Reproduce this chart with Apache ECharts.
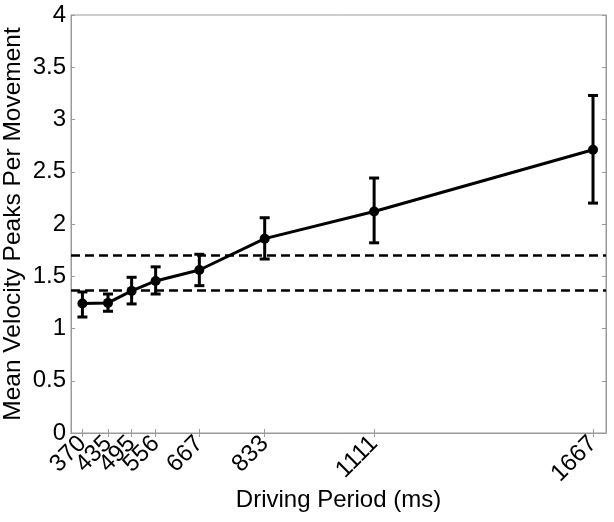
<!DOCTYPE html>
<html>
<head>
<meta charset="utf-8">
<script src="https://cdn.jsdelivr.net/npm/echarts@6/dist/echarts.min.js"></script>
<style>
  html, body { margin: 0; padding: 0; background: #fff; }
  #chart { width: 614px; height: 522px; }
</style>
</head>
<body>
<div id="chart"></div>
<script>
// driving periods (ms) and mean velocity peaks per movement
const periods = [370, 435, 495, 556, 667, 833, 1111, 1667];
const means = [1.24, 1.245, 1.36, 1.455, 1.56, 1.86, 2.12, 2.71];
const upper = [1.35, 1.33, 1.49, 1.59, 1.71, 2.06, 2.44, 3.23];
const lower = [1.11, 1.165, 1.235, 1.33, 1.41, 1.665, 1.82, 2.20];
const refLines = [1.70, 1.37];

const font = "'Liberation Sans', Arial, sans-serif";
const axisGray = "#9a9a9a";
const xMin = 341, xMax = 1700;

const chart = echarts.init(document.getElementById("chart"));

const lineData = periods.map((p, i) => [p, means[i]]);
const errData = periods.map((p, i) => [p, lower[i], upper[i]]);

// labels are tightly packed, so split them over two identical grids
// to stop echarts from dropping the crowded ones
const labelsA = periods.filter((p, i) => i % 2 === 0);
const labelsB = periods.filter((p, i) => i % 2 === 1);

const tickStyle = { show: true, inside: true, length: 4, lineStyle: { color: axisGray } };
const gridRect = { left: 71, right: 8, top: 15, bottom: 89, outerBoundsMode: "none" };
const xLabel = {
  formatter: v => String(v),
  rotate: 45,
  hideOverlap: false,
  fontFamily: font,
  fontSize: 24,
  color: "#000",
  margin: 7,
};

const option = {
  animation: false,
  grid: [
    Object.assign({ show: true, borderColor: axisGray, borderWidth: 1 }, gridRect),
    Object.assign({ show: false }, gridRect),
  ],
  xAxis: [
    {
      type: "value",
      gridIndex: 0,
      min: xMin,
      max: xMax,
      position: "bottom",
      name: "Driving Period (ms)",
      nameLocation: "middle",
      nameGap: 55,
      nameMoveOverlap: false,
      nameTextStyle: { fontFamily: font, fontSize: 24, color: "#000" },
      axisLine: { show: true, lineStyle: { color: axisGray, width: 1 } },
      axisTick: Object.assign({ customValues: periods }, tickStyle),
      axisLabel: Object.assign({ customValues: labelsA }, xLabel),
      splitLine: { show: false },
    },
    {
      type: "value",
      gridIndex: 0,
      min: xMin,
      max: xMax,
      position: "top",
      axisLine: { show: true, lineStyle: { color: axisGray, width: 1 } },
      axisTick: Object.assign({ customValues: periods }, tickStyle),
      axisLabel: { show: false },
      splitLine: { show: false },
    },
    {
      type: "value",
      gridIndex: 1,
      min: xMin,
      max: xMax,
      position: "bottom",
      axisLine: { show: false },
      axisTick: { show: false },
      axisLabel: Object.assign({ customValues: labelsB }, xLabel),
      splitLine: { show: false },
    },
  ],
  yAxis: [
    {
      type: "value",
      gridIndex: 0,
      min: 0,
      max: 4,
      interval: 0.5,
      position: "left",
      name: "Mean Velocity Peaks Per Movement",
      nameLocation: "middle",
      nameGap: 45,
      nameMoveOverlap: false,
      nameTextStyle: { fontFamily: font, fontSize: 24.5, color: "#000" },
      axisLine: { show: true, lineStyle: { color: axisGray, width: 1 } },
      axisTick: tickStyle,
      axisLabel: { fontFamily: font, fontSize: 24, color: "#000", margin: 5 },
      splitLine: { show: false },
    },
    {
      type: "value",
      gridIndex: 0,
      min: 0,
      max: 4,
      interval: 0.5,
      position: "right",
      axisLine: { show: true, lineStyle: { color: axisGray, width: 1 } },
      axisTick: tickStyle,
      axisLabel: { show: false },
      splitLine: { show: false },
    },
    {
      type: "value",
      gridIndex: 1,
      min: 0,
      max: 4,
      show: false,
    },
  ],
  series: [
    {
      type: "line",
      data: lineData,
      xAxisIndex: 0,
      yAxisIndex: 0,
      symbol: "circle",
      symbolSize: 10,
      itemStyle: { color: "#000" },
      lineStyle: { color: "#000", width: 3 },
      z: 3,
      markLine: {
        silent: true,
        symbol: "none",
        label: { show: false },
        lineStyle: { color: "#000", width: 2.5, type: [9, 5] },
        data: refLines.map(v => ({ yAxis: v })),
      },
    },
    {
      type: "custom",
      data: errData,
      xAxisIndex: 0,
      yAxisIndex: 0,
      z: 4,
      renderItem: function (params, api) {
        const x = api.value(0);
        const lo = api.coord([x, api.value(1)]);
        const hi = api.coord([x, api.value(2)]);
        const half = 5;
        const style = { stroke: "#000", lineWidth: 3 };
        return {
          type: "group",
          children: [
            { type: "line", shape: { x1: lo[0], y1: lo[1], x2: hi[0], y2: hi[1] }, style },
            { type: "line", shape: { x1: hi[0] - half, y1: hi[1], x2: hi[0] + half, y2: hi[1] }, style },
            { type: "line", shape: { x1: lo[0] - half, y1: lo[1], x2: lo[0] + half, y2: lo[1] }, style },
          ],
        };
      },
    },
  ],
};

chart.setOption(option);
</script>
</body>
</html>
